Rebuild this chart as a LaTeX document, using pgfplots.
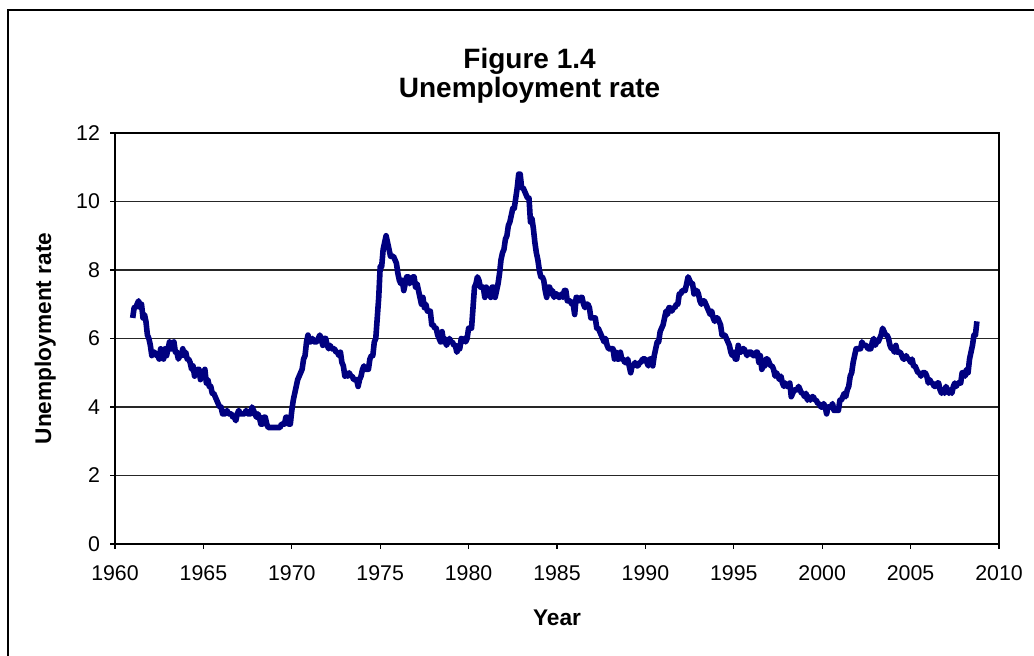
\documentclass[border=0pt]{standalone}
\usepackage{pgfplots}
\pgfplotsset{compat=1.18}
\usepackage{fontspec}
\setmainfont{Liberation Sans}

\definecolor{linenavy}{RGB}{0,0,128}

\begin{document}
\begin{tikzpicture}
% page size and chart frame (left and top edges)
\useasboundingbox (0pt,0pt) rectangle (775.5pt,492pt);
\draw[line width=1.2pt] (6pt,0pt) -- (6pt,484.5pt) -- (775.5pt,484.5pt);

\begin{axis}[
  at={(86.25pt,84pt)}, anchor=south west,
  scale only axis, width=663pt, height=308.25pt,
  xmin=1960, xmax=2010, ymin=0, ymax=12,
  xtick={1960,1965,...,2010}, ytick={0,2,...,12},
  xtick pos=bottom, ytick pos=left,
  tick align=outside, major tick length=3.75pt,
  tick style={black, line width=0.8pt},
  axis line style={black, line width=1pt},
  ymajorgrids, grid style={black!85, line width=0.8pt},
  xticklabel style={/pgf/number format/1000 sep={}, yshift=-9pt},
  yticklabel style={xshift=-4pt},
  /pgf/number format/assume math mode=true,
  tick label style={font=\fontsize{16}{19}\selectfont},
  title={Figure 1.4\\Unemployment rate},
  title style={align=center, font=\bfseries\fontsize{21}{22}\selectfont,
    at={(axis description cs:0.469,1.12)}, anchor=center},
  xlabel={Year}, ylabel={Unemployment rate},
  xlabel style={font=\bfseries\fontsize{17}{20}\selectfont,
    at={(axis description cs:0.5,-0.18)}, anchor=center},
  ylabel style={font=\bfseries\fontsize{17}{20}\selectfont,
    at={(axis description cs:-0.079,0.5)}, anchor=center, rotate=0},
]
% monthly civilian unemployment rate, January 1961 to October 2008
\addplot[linenavy, line width=4.2pt, line join=round, no marks]
  table[row sep=\\, x expr=1961+\coordindex/12, y index=0] {
rate\\
6.6\\ 6.9\\ 6.9\\ 7.0\\ 7.1\\ 6.9\\ 7.0\\ 6.6\\ 6.7\\ 6.5\\ 6.1\\ 6.0\\
5.8\\ 5.5\\ 5.6\\ 5.6\\ 5.5\\ 5.5\\ 5.4\\ 5.7\\ 5.6\\ 5.4\\ 5.7\\ 5.5\\
5.7\\ 5.9\\ 5.7\\ 5.7\\ 5.9\\ 5.6\\ 5.6\\ 5.4\\ 5.5\\ 5.5\\ 5.7\\ 5.5\\
5.6\\ 5.4\\ 5.4\\ 5.3\\ 5.1\\ 5.2\\ 4.9\\ 5.0\\ 5.1\\ 5.1\\ 4.8\\ 5.0\\
4.9\\ 5.1\\ 4.7\\ 4.8\\ 4.6\\ 4.6\\ 4.4\\ 4.4\\ 4.3\\ 4.2\\ 4.1\\ 4.0\\
4.0\\ 3.8\\ 3.8\\ 3.8\\ 3.9\\ 3.8\\ 3.8\\ 3.8\\ 3.7\\ 3.7\\ 3.6\\ 3.8\\
3.9\\ 3.8\\ 3.8\\ 3.8\\ 3.8\\ 3.9\\ 3.8\\ 3.8\\ 3.8\\ 4.0\\ 3.9\\ 3.8\\
3.7\\ 3.8\\ 3.7\\ 3.5\\ 3.5\\ 3.7\\ 3.7\\ 3.5\\ 3.4\\ 3.4\\ 3.4\\ 3.4\\
3.4\\ 3.4\\ 3.4\\ 3.4\\ 3.4\\ 3.5\\ 3.5\\ 3.5\\ 3.7\\ 3.7\\ 3.5\\ 3.5\\
3.9\\ 4.2\\ 4.4\\ 4.6\\ 4.8\\ 4.9\\ 5.0\\ 5.1\\ 5.4\\ 5.5\\ 5.9\\ 6.1\\
5.9\\ 5.9\\ 6.0\\ 5.9\\ 5.9\\ 5.9\\ 6.0\\ 6.1\\ 6.0\\ 5.8\\ 6.0\\ 6.0\\
5.8\\ 5.7\\ 5.8\\ 5.7\\ 5.7\\ 5.7\\ 5.6\\ 5.6\\ 5.5\\ 5.6\\ 5.3\\ 5.2\\
4.9\\ 5.0\\ 4.9\\ 5.0\\ 4.9\\ 4.9\\ 4.8\\ 4.8\\ 4.8\\ 4.6\\ 4.8\\ 4.9\\
5.1\\ 5.2\\ 5.1\\ 5.1\\ 5.1\\ 5.4\\ 5.5\\ 5.5\\ 5.9\\ 6.0\\ 6.6\\ 7.2\\
8.1\\ 8.1\\ 8.6\\ 8.8\\ 9.0\\ 8.8\\ 8.6\\ 8.4\\ 8.4\\ 8.4\\ 8.3\\ 8.2\\
7.9\\ 7.7\\ 7.6\\ 7.7\\ 7.4\\ 7.6\\ 7.8\\ 7.8\\ 7.6\\ 7.7\\ 7.8\\ 7.8\\
7.5\\ 7.6\\ 7.4\\ 7.2\\ 7.0\\ 7.2\\ 6.9\\ 7.0\\ 6.8\\ 6.8\\ 6.8\\ 6.4\\
6.4\\ 6.3\\ 6.3\\ 6.1\\ 6.0\\ 5.9\\ 6.2\\ 5.9\\ 6.0\\ 5.8\\ 5.9\\ 6.0\\
5.9\\ 5.9\\ 5.8\\ 5.8\\ 5.6\\ 5.7\\ 5.7\\ 6.0\\ 5.9\\ 6.0\\ 5.9\\ 6.0\\
6.3\\ 6.3\\ 6.3\\ 6.9\\ 7.5\\ 7.6\\ 7.8\\ 7.7\\ 7.5\\ 7.5\\ 7.5\\ 7.2\\
7.5\\ 7.4\\ 7.4\\ 7.2\\ 7.5\\ 7.5\\ 7.2\\ 7.4\\ 7.6\\ 7.9\\ 8.3\\ 8.5\\
8.6\\ 8.9\\ 9.0\\ 9.3\\ 9.4\\ 9.6\\ 9.8\\ 9.8\\ 10.1\\ 10.4\\ 10.8\\ 10.8\\
10.4\\ 10.4\\ 10.3\\ 10.2\\ 10.1\\ 10.1\\ 9.4\\ 9.5\\ 9.2\\ 8.8\\ 8.5\\ 8.3\\
8.0\\ 7.8\\ 7.8\\ 7.7\\ 7.4\\ 7.2\\ 7.5\\ 7.5\\ 7.3\\ 7.4\\ 7.2\\ 7.3\\
7.3\\ 7.2\\ 7.2\\ 7.3\\ 7.2\\ 7.4\\ 7.4\\ 7.1\\ 7.1\\ 7.1\\ 7.0\\ 7.0\\
6.7\\ 7.2\\ 7.2\\ 7.1\\ 7.2\\ 7.2\\ 7.0\\ 6.9\\ 7.0\\ 7.0\\ 6.9\\ 6.6\\
6.6\\ 6.6\\ 6.6\\ 6.3\\ 6.3\\ 6.2\\ 6.1\\ 6.0\\ 5.9\\ 6.0\\ 5.8\\ 5.7\\
5.7\\ 5.7\\ 5.7\\ 5.4\\ 5.6\\ 5.4\\ 5.4\\ 5.6\\ 5.4\\ 5.4\\ 5.3\\ 5.3\\
5.4\\ 5.2\\ 5.0\\ 5.2\\ 5.2\\ 5.3\\ 5.2\\ 5.2\\ 5.3\\ 5.3\\ 5.4\\ 5.4\\
5.4\\ 5.3\\ 5.2\\ 5.4\\ 5.4\\ 5.2\\ 5.5\\ 5.7\\ 5.9\\ 5.9\\ 6.2\\ 6.3\\
6.4\\ 6.6\\ 6.8\\ 6.7\\ 6.9\\ 6.9\\ 6.8\\ 6.9\\ 6.9\\ 7.0\\ 7.0\\ 7.3\\
7.3\\ 7.4\\ 7.4\\ 7.4\\ 7.6\\ 7.8\\ 7.7\\ 7.6\\ 7.6\\ 7.3\\ 7.4\\ 7.4\\
7.3\\ 7.1\\ 7.0\\ 7.1\\ 7.1\\ 7.0\\ 6.9\\ 6.8\\ 6.7\\ 6.8\\ 6.6\\ 6.5\\
6.6\\ 6.6\\ 6.5\\ 6.4\\ 6.1\\ 6.1\\ 6.1\\ 6.0\\ 5.9\\ 5.8\\ 5.6\\ 5.5\\
5.6\\ 5.4\\ 5.4\\ 5.8\\ 5.6\\ 5.6\\ 5.7\\ 5.7\\ 5.6\\ 5.5\\ 5.6\\ 5.6\\
5.6\\ 5.5\\ 5.5\\ 5.6\\ 5.6\\ 5.3\\ 5.5\\ 5.1\\ 5.2\\ 5.2\\ 5.4\\ 5.4\\
5.3\\ 5.2\\ 5.2\\ 5.1\\ 4.9\\ 5.0\\ 4.9\\ 4.8\\ 4.9\\ 4.7\\ 4.6\\ 4.7\\
4.6\\ 4.6\\ 4.7\\ 4.3\\ 4.4\\ 4.5\\ 4.5\\ 4.5\\ 4.6\\ 4.5\\ 4.4\\ 4.4\\
4.3\\ 4.4\\ 4.2\\ 4.3\\ 4.2\\ 4.3\\ 4.3\\ 4.2\\ 4.2\\ 4.1\\ 4.1\\ 4.0\\
4.0\\ 4.1\\ 4.0\\ 3.8\\ 4.0\\ 4.0\\ 4.0\\ 4.1\\ 3.9\\ 3.9\\ 3.9\\ 3.9\\
4.2\\ 4.2\\ 4.3\\ 4.4\\ 4.3\\ 4.5\\ 4.6\\ 4.9\\ 5.0\\ 5.3\\ 5.5\\ 5.7\\
5.7\\ 5.7\\ 5.7\\ 5.9\\ 5.8\\ 5.8\\ 5.8\\ 5.7\\ 5.7\\ 5.7\\ 5.9\\ 6.0\\
5.8\\ 5.9\\ 5.9\\ 6.0\\ 6.1\\ 6.3\\ 6.2\\ 6.1\\ 6.1\\ 6.0\\ 5.8\\ 5.7\\
5.7\\ 5.6\\ 5.8\\ 5.6\\ 5.6\\ 5.6\\ 5.5\\ 5.4\\ 5.4\\ 5.5\\ 5.4\\ 5.4\\
5.3\\ 5.4\\ 5.2\\ 5.2\\ 5.1\\ 5.0\\ 5.0\\ 4.9\\ 5.0\\ 5.0\\ 5.0\\ 4.9\\
4.7\\ 4.8\\ 4.7\\ 4.7\\ 4.6\\ 4.6\\ 4.7\\ 4.7\\ 4.5\\ 4.4\\ 4.5\\ 4.4\\
4.6\\ 4.5\\ 4.4\\ 4.5\\ 4.4\\ 4.6\\ 4.7\\ 4.6\\ 4.7\\ 4.7\\ 4.7\\ 5.0\\
5.0\\ 4.9\\ 5.1\\ 5.0\\ 5.4\\ 5.6\\ 5.8\\ 6.1\\ 6.1\\ 6.5\\
};
\end{axis}
\end{tikzpicture}
\end{document}
